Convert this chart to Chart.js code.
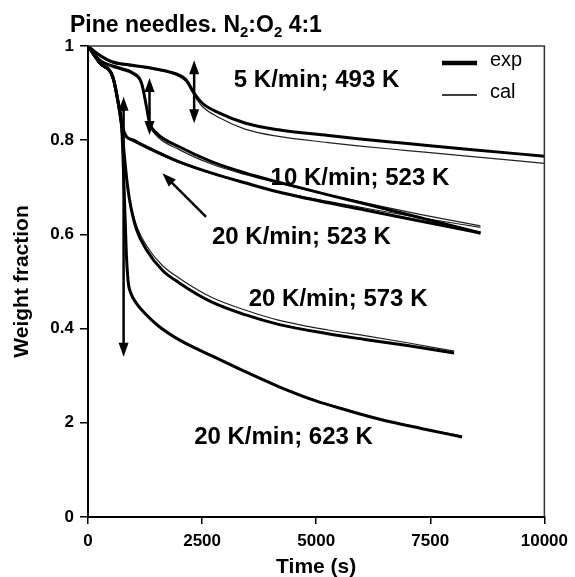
<!DOCTYPE html>
<html>
<head>
<meta charset="utf-8">
<script src="https://cdn.jsdelivr.net/npm/chart.js@4.4.1/dist/chart.umd.min.js"></script>
<style>
  html, body { margin: 0; padding: 0; background: #fff; }
</style>
</head>
<body>
<canvas id="tgaChart" width="575" height="577"></canvas>
<script>
/* --------------------------------------------
   DATA
--------------------------------------------- */
const timeTicks = [0, 2500, 5000, 7500, 10000];
const weightTickLabels = ["0", "2", "0.4", "0.6", "0.8", "1"];

// 5 K/min; 493 K
const t5 = [0, 250, 543, 900, 1283, 1783, 2000, 2152, 2326, 2500, 2870, 3457, 4174, 5261, 5913, 7000, 8304, 10000];
const w5Exp = [1.0, 0.981, 0.966, 0.960, 0.955, 0.945, 0.938, 0.928, 0.900, 0.879, 0.858, 0.836, 0.822, 0.810, 0.803, 0.793, 0.781, 0.766];
const w5Cal = [1.0, 0.979, 0.964, 0.958, 0.953, 0.943, 0.935, 0.924, 0.895, 0.872, 0.848, 0.823, 0.808, 0.795, 0.788, 0.778, 0.766, 0.751];

// 10 K/min; 523 K
const t10 = [0, 261, 700, 980, 1174, 1283, 1348, 1500, 2000, 2717, 3457, 4174, 5261, 6065, 7300, 8600];
const w10Exp = [1.0, 0.970, 0.953, 0.943, 0.921, 0.870, 0.837, 0.815, 0.786, 0.754, 0.730, 0.711, 0.684, 0.665, 0.635, 0.603];
const w10Cal = [1.0, 0.968, 0.950, 0.940, 0.918, 0.868, 0.834, 0.810, 0.780, 0.749, 0.727, 0.709, 0.684, 0.667, 0.642, 0.618];

// 20 K/min; 523 K
const t20a = [0, 261, 543, 652, 739, 800, 850, 1000, 1283, 2000, 2717, 3457, 4174, 5261, 6065, 7300, 8600];
const w20aExp = [1.0, 0.964, 0.934, 0.885, 0.835, 0.815, 0.807, 0.800, 0.786, 0.754, 0.730, 0.709, 0.690, 0.667, 0.652, 0.628, 0.603];
const w20aCal = [1.0, 0.962, 0.930, 0.880, 0.832, 0.812, 0.805, 0.797, 0.783, 0.752, 0.729, 0.709, 0.691, 0.670, 0.656, 0.635, 0.615];

// 20 K/min; 573 K
const t20b = [0, 261, 543, 652, 739, 804, 870, 935, 1065, 1283, 1630, 2000, 2717, 3457, 4174, 5261, 6065, 7000, 8022];
const w20bExp = [1.0, 0.964, 0.934, 0.885, 0.828, 0.760, 0.700, 0.660, 0.610, 0.567, 0.524, 0.497, 0.456, 0.429, 0.409, 0.389, 0.377, 0.364, 0.348];
const w20bCal = [1.0, 0.962, 0.930, 0.880, 0.825, 0.757, 0.700, 0.665, 0.618, 0.576, 0.534, 0.507, 0.466, 0.439, 0.418, 0.397, 0.385, 0.370, 0.352];

// 20 K/min; 623 K
const t20c = [0, 261, 543, 652, 739, 790, 840, 880, 940, 1050, 1250, 1550, 2000, 2717, 3457, 4174, 4978, 5700, 6413, 7300, 8196];
const w20cExp = [1.0, 0.964, 0.934, 0.885, 0.828, 0.700, 0.560, 0.500, 0.475, 0.455, 0.432, 0.405, 0.376, 0.342, 0.308, 0.277, 0.247, 0.226, 0.207, 0.188, 0.170];
const w20cCal = [1.0, 0.962, 0.930, 0.880, 0.825, 0.697, 0.558, 0.502, 0.478, 0.458, 0.434, 0.406, 0.377, 0.343, 0.309, 0.278, 0.248, 0.227, 0.208, 0.189, 0.172];

// curve labels and where they sit (time, weight of the left/middle point)
const curveLabels = ["5 K/min; 493 K", "10 K/min; 523 K", "20 K/min; 523 K", "20 K/min; 573 K", "20 K/min; 623 K"];
const labelTimes = [3196, 4000, 2717, 3522, 2326];
const labelWeights = [0.928, 0.720, 0.594, 0.461, 0.168];

// arrows: [t1, w1, t2, w2, twoHeads]
const arrows = [
  [2326, 0.836, 2326, 0.970, true],
  [1348, 0.811, 1348, 0.932, true],
  [780, 0.340, 780, 0.892, true],
  [2587, 0.637, 1630, 0.730, false],
];

/* --------------------------------------------
   HELPERS
--------------------------------------------- */
const FONT = '"Liberation Sans", Arial, sans-serif';

function toPoints(ts, ws) {
  return ts.map((t, i) => ({ x: t, y: ws[i] }));
}

function curve(ts, ws, isExp) {
  return {
    data: toPoints(ts, ws),
    borderColor: isExp ? "#000" : "#222",
    borderWidth: isExp ? 3 : 1.2,
    pointRadius: 0,
    fill: false,
    cubicInterpolationMode: "monotone",
  };
}

function drawArrow(ctx, x1, y1, x2, y2, twoHeads) {
  const headLen = 14, headW = 5;
  const ang = Math.atan2(y2 - y1, x2 - x1);
  const ca = Math.cos(ang), sa = Math.sin(ang);
  const sx = twoHeads ? x1 + ca * headLen * 0.8 : x1;
  const sy = twoHeads ? y1 + sa * headLen * 0.8 : y1;
  ctx.beginPath();
  ctx.moveTo(sx, sy);
  ctx.lineTo(x2 - ca * headLen * 0.8, y2 - sa * headLen * 0.8);
  ctx.lineWidth = 2.5;
  ctx.stroke();
  const head = (px, py, a) => {
    const c = Math.cos(a), s = Math.sin(a);
    ctx.beginPath();
    ctx.moveTo(px, py);
    ctx.lineTo(px - c * headLen - s * headW, py - s * headLen + c * headW);
    ctx.lineTo(px - c * headLen + s * headW, py - s * headLen - c * headW);
    ctx.closePath();
    ctx.fill();
  };
  head(x2, y2, ang);
  if (twoHeads) head(x1, y1, ang + Math.PI);
}

/* --------------------------------------------
   DECORATION PLUGIN (title, labels, arrows, legend)
--------------------------------------------- */
const decorations = {
  id: "decorations",
  afterDraw(chart) {
    const { ctx, chartArea: a, scales } = chart;
    const xs = scales.x, ys = scales.y;
    ctx.save();
    ctx.fillStyle = "#000";
    ctx.strokeStyle = "#000";

    // frame top + right
    ctx.lineWidth = 1.5;
    ctx.strokeStyle = "#333";
    ctx.beginPath();
    ctx.moveTo(a.left, a.top);
    ctx.lineTo(a.right, a.top);
    ctx.lineTo(a.right, a.bottom);
    ctx.stroke();
    ctx.strokeStyle = "#000";

    // title with subscripts
    ctx.textBaseline = "alphabetic";
    ctx.textAlign = "left";
    let x = 70;
    const base = 32;
    const parts = [["Pine needles. N", false], ["2", true], [":O", false], ["2", true], [" 4:1", false]];
    parts.forEach(([txt, sub]) => {
      ctx.font = sub ? `bold 15px ${FONT}` : `bold 23px ${FONT}`;
      ctx.fillText(txt, x, sub ? base + 5 : base);
      x += ctx.measureText(txt).width;
    });

    // axis titles
    ctx.font = `bold 21px ${FONT}`;
    ctx.textAlign = "center";
    ctx.textBaseline = "middle";
    ctx.fillText("Time (s)", (a.left + a.right) / 2, 567);
    ctx.save();
    ctx.translate(22, (a.top + a.bottom) / 2);
    ctx.rotate(-Math.PI / 2);
    ctx.fillText("Weight fraction", 0, 0);
    ctx.restore();

    // curve labels
    ctx.font = `bold 24px ${FONT}`;
    ctx.textAlign = "left";
    curveLabels.forEach((txt, i) => {
      ctx.fillText(txt, xs.getPixelForValue(labelTimes[i]), ys.getPixelForValue(labelWeights[i]));
    });

    // arrows
    arrows.forEach(([t1, w1, t2, w2, two]) => {
      drawArrow(ctx, xs.getPixelForValue(t1), ys.getPixelForValue(w1),
        xs.getPixelForValue(t2), ys.getPixelForValue(w2), two);
    });

    // legend
    ctx.lineWidth = 4.5;
    ctx.beginPath(); ctx.moveTo(442, 63); ctx.lineTo(477, 63); ctx.stroke();
    ctx.lineWidth = 1.5;
    ctx.beginPath(); ctx.moveTo(442, 95); ctx.lineTo(477, 95); ctx.stroke();
    ctx.font = `20px ${FONT}`;
    ctx.fillText("exp", 490, 60);
    ctx.fillText("cal", 490, 92);

    ctx.restore();
  },
};

/* --------------------------------------------
   CHART
--------------------------------------------- */
const tickFont = { family: FONT, size: 17, weight: "bold" };

new Chart(document.getElementById("tgaChart"), {
  type: "line",
  data: {
    datasets: [
      curve(t5, w5Exp, true), curve(t5, w5Cal, false),
      curve(t10, w10Exp, true), curve(t10, w10Cal, false),
      curve(t20a, w20aExp, true), curve(t20a, w20aCal, false),
      curve(t20b, w20bExp, true), curve(t20b, w20bCal, false),
      curve(t20c, w20cExp, true), curve(t20c, w20cCal, false),
    ],
  },
  options: {
    responsive: false,
    animation: false,
    events: [],
    layout: { padding: { top: 46, right: 27, bottom: 0, left: 0 } },
    plugins: { legend: { display: false }, tooltip: { enabled: false } },
    scales: {
      x: {
        type: "linear",
        min: timeTicks[0],
        max: timeTicks[timeTicks.length - 1],
        afterBuildTicks: (s) => { s.ticks = timeTicks.map((v) => ({ value: v })); },
        afterFit: (s) => { s.height = 60; },
        border: { display: true, color: "#000", width: 2 },
        grid: { display: true, drawOnChartArea: false, drawTicks: true, tickLength: 7, color: "#000", lineWidth: 1.5 },
        ticks: { font: tickFont, color: "#000", padding: 7, maxRotation: 0, callback: (v) => String(v) },
      },
      y: {
        min: 0,
        max: 1,
        ticks: {
          stepSize: 0.2,
          font: tickFont,
          color: "#000",
          padding: 6,
          callback: (v, i) => weightTickLabels[i],
        },
        afterFit: (s) => { s.width = 88; },
        border: { display: true, color: "#000", width: 2 },
        grid: { display: true, drawOnChartArea: false, drawTicks: true, tickLength: 8, color: "#000", lineWidth: 1.5 },
      },
    },
  },
  plugins: [decorations],
});
</script>
</body>
</html>
